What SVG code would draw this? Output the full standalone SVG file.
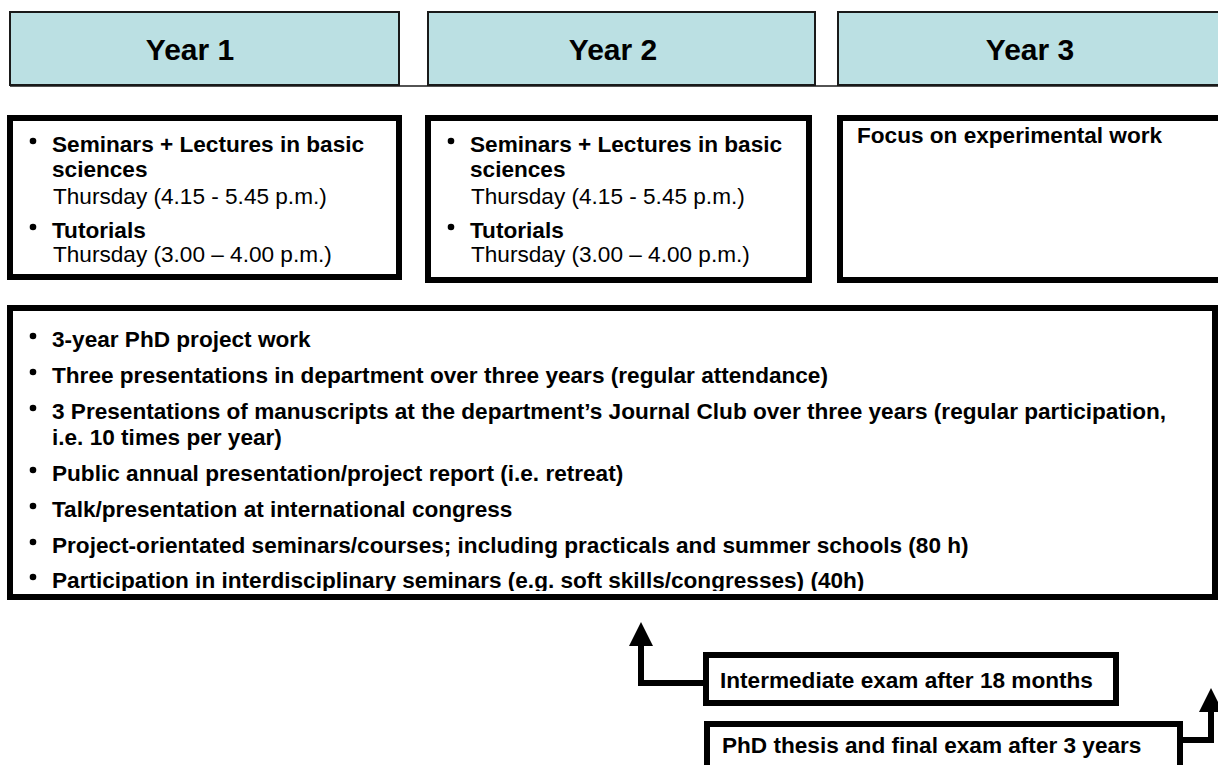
<svg xmlns="http://www.w3.org/2000/svg" width="1218" height="765" viewBox="0 0 1218 765">
<style>
.hdr{fill:#BBE0E3;stroke:#1a1a1a;stroke-width:2}
.box{fill:#fff;stroke:#000;stroke-width:6}
.ht{font-family:"Liberation Sans",Arial,sans-serif;font-weight:bold;font-size:30px;fill:#000}
.b{font-family:"Liberation Sans",Arial,sans-serif;font-weight:bold;font-size:22.6px;fill:#000}
.r{font-family:"Liberation Sans",Arial,sans-serif;font-size:22.6px;fill:#000}
.bl{fill:#000}
.conn{fill:none;stroke:#000;stroke-width:6}
</style>
<defs>
<marker id="ah" markerWidth="4" markerHeight="4" refX="1" refY="2" orient="auto" markerUnits="strokeWidth">
<path d="M0,0 L4,2 L0,4 z" fill="#000"/>
</marker>
<clipPath id="clipBottom"><rect x="13" y="311" width="1199" height="280"/></clipPath>
</defs>

<g id="header-year1">
<rect class="hdr" x="10" y="12" width="389" height="73"/>
<text class="ht" x="190" y="60" text-anchor="middle">Year 1</text>
</g>
<g id="header-year2">
<rect class="hdr" x="428" y="12" width="387" height="73"/>
<text class="ht" x="613" y="60" text-anchor="middle">Year 2</text>
</g>
<g id="header-year3">
<rect class="hdr" x="838" y="12" width="390" height="73"/>
<text class="ht" x="1030" y="60" text-anchor="middle">Year 3</text>
</g>
<line x1="10" y1="86" x2="1218" y2="86" stroke="#1a1a1a" stroke-width="1.5"/>

<g id="year1-content">
<rect class="box" x="10" y="118" width="389" height="159"/>
<circle class="bl" cx="33" cy="141" r="3.3"/>
<text class="b" x="52" y="152">Seminars + Lectures in basic</text>
<text class="b" x="52" y="177">sciences</text>
<text class="r" x="53" y="204">Thursday (4.15 - 5.45 p.m.)</text>
<circle class="bl" cx="33" cy="227" r="3.3"/>
<text class="b" x="52" y="238">Tutorials</text>
<text class="r" x="53" y="262">Thursday (3.00 – 4.00 p.m.)</text>
</g>

<g id="year2-content">
<rect class="box" x="428" y="118" width="381" height="162"/>
<circle class="bl" cx="451" cy="141" r="3.3"/>
<text class="b" x="470" y="152">Seminars + Lectures in basic</text>
<text class="b" x="470" y="177">sciences</text>
<text class="r" x="471" y="204">Thursday (4.15 - 5.45 p.m.)</text>
<circle class="bl" cx="451" cy="227" r="3.3"/>
<text class="b" x="470" y="238">Tutorials</text>
<text class="r" x="471" y="262">Thursday (3.00 – 4.00 p.m.)</text>
</g>

<g id="year3-content">
<rect class="box" x="840" y="118" width="390" height="162"/>
<text class="b" x="857" y="143">Focus on experimental work</text>
</g>

<g id="common-content">
<rect class="box" x="10" y="308" width="1205" height="289"/>
<g clip-path="url(#clipBottom)">
<circle class="bl" cx="33" cy="336" r="3.3"/>
<text class="b" x="52" y="347">3-year PhD project work</text>
<circle class="bl" cx="33" cy="372" r="3.3"/>
<text class="b" x="52" y="383">Three presentations in department over three years (regular attendance)</text>
<circle class="bl" cx="33" cy="408" r="3.3"/>
<text class="b" x="52" y="419">3 Presentations of manuscripts at the department’s Journal Club over three years (regular participation,</text>
<text class="b" x="52" y="445">i.e. 10 times per year)</text>
<circle class="bl" cx="33" cy="470" r="3.3"/>
<text class="b" x="52" y="481">Public annual presentation/project report (i.e. retreat)</text>
<circle class="bl" cx="33" cy="506" r="3.3"/>
<text class="b" x="52" y="517">Talk/presentation at international congress</text>
<circle class="bl" cx="33" cy="542" r="3.3"/>
<text class="b" x="52" y="553">Project-orientated seminars/courses; including practicals and summer schools (80 h)</text>
<circle class="bl" cx="33" cy="577" r="3.3"/>
<text class="b" x="52" y="588">Participation in interdisciplinary seminars (e.g. soft skills/congresses) (40h)</text>
</g>
</g>

<g id="intermediate-exam">
<rect class="box" x="706" y="655" width="410" height="48"/>
<text class="b" x="720" y="688">Intermediate exam after 18 months</text>
</g>

<g id="final-exam">
<rect class="box" x="707" y="724" width="473" height="60"/>
<text class="b" x="722" y="753">PhD thesis and final exam after 3 years</text>
</g>

<g id="connectors">
<path class="conn" d="M706,683 L641,683 L641,640" marker-end="url(#ah)"/>
<path class="conn" d="M1180,740 L1211,740 L1211,706" marker-end="url(#ah)"/>
</g>
</svg>
